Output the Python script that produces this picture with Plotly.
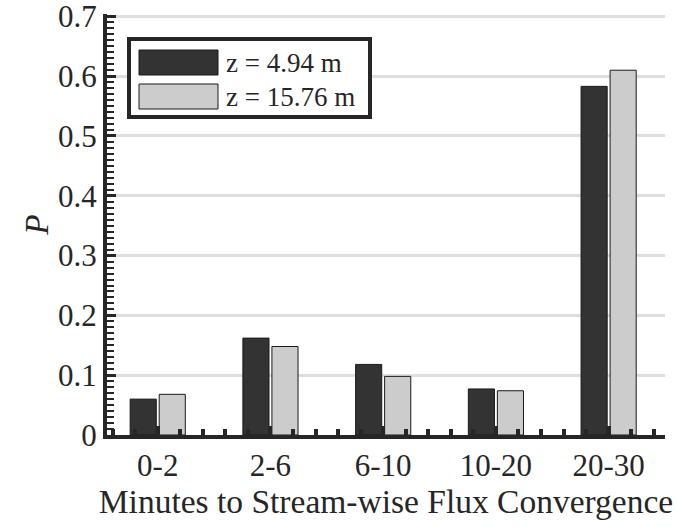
import plotly.graph_objects as go

# Probability of time-to-convergence, two measurement heights
categories = ["0-2", "2-6", "6-10", "10-20", "20-30"]
p_z494 = [0.060, 0.162, 0.118, 0.077, 0.583]
p_z1576 = [0.068, 0.148, 0.098, 0.074, 0.610]
series_names = ["z = 4.94 m", "z = 15.76 m"]
series_fill = ["#333333", "#cccccc"]

W, H = 677, 527
L, R, T, B = 107, 12, 14, 92
PW, PH = W - L - R, H - T - B
FONT = "Liberation Serif"
INK = "#262626"


def fx(px):
    return (px - L) / PW


def fy(py):
    return (T + PH - py) / PH


xpos = list(range(len(categories)))

fig = go.Figure()
for name, vals, col in zip(series_names, [p_z494, p_z1576], series_fill):
    fig.add_trace(go.Bar(
        x=xpos, y=vals, name=name,
        marker=dict(color=col, line=dict(color="#1a1a1a", width=1)),
        showlegend=False,
    ))

fig.update_layout(
    width=W, height=H,
    margin=dict(l=L, r=R, t=T, b=B, autoexpand=False),
    paper_bgcolor="white", plot_bgcolor="white",
    barmode="group", bargap=0.485, bargroupgap=0.1,
    font=dict(family=FONT, size=31, color=INK),
)

fig.update_xaxes(
    range=[-0.45, 4.5], automargin=False,
    tickmode="array", tickvals=xpos, ticktext=categories,
    ticks="inside", ticklen=9, tickwidth=4, tickcolor=INK,
    minor=dict(tickmode="linear", dtick=0.2, tick0=0, ticks="inside",
               ticklen=6, tickwidth=4, tickcolor=INK),
    showline=True, linewidth=4, linecolor=INK,
    showgrid=False, zeroline=False,
    ticklabeloverflow="allow",
    tickfont=dict(size=31, family=FONT, color=INK),
    title=dict(text="Minutes to Stream-wise Flux Convergence",
               font=dict(size=33.5, family=FONT, color=INK), standoff=1),
)

fig.update_yaxes(
    range=[0, 0.704], automargin=False,
    tickmode="linear", tick0=0, dtick=0.1, tickformat=".1~f",
    ticks="inside", ticklen=9, tickwidth=3, tickcolor=INK,
    minor=dict(tickmode="linear", dtick=0.01, tick0=0, ticks="inside",
               ticklen=7, tickwidth=2, tickcolor=INK, showgrid=False),
    showline=True, linewidth=4, linecolor=INK,
    showgrid=True, gridcolor="#dedede", gridwidth=3,
    zeroline=False,
    ticklabelstandoff=0, ticklabeloverflow="allow",
    tickfont=dict(size=31, family=FONT, color=INK),
    title=dict(text="<i>P</i>", font=dict(size=33.5, family=FONT, color=INK), standoff=0),
)

# Legend drawn as a framed box with large swatches
shapes = [dict(type="rect", xref="paper", yref="paper",
               x0=fx(129), x1=fx(370), y0=fy(117), y1=fy(39),
               fillcolor="white", line=dict(color=INK, width=4), layer="above")]
annotations = []
for i, (name, col) in enumerate(zip(series_names, series_fill)):
    top = 50 + i * 34
    shapes.append(dict(type="rect", xref="paper", yref="paper",
                       x0=fx(139), x1=fx(218), y0=fy(top + 25), y1=fy(top),
                       fillcolor=col, line=dict(color="#1a1a1a", width=1), layer="above"))
    annotations.append(dict(xref="paper", yref="paper", x=fx(224), y=fy(top + 12.5),
                            xanchor="left", yanchor="middle", showarrow=False,
                            text=name, font=dict(size=27, family=FONT, color=INK)))
fig.update_layout(shapes=shapes, annotations=annotations)

fig.write_html("out.html")
